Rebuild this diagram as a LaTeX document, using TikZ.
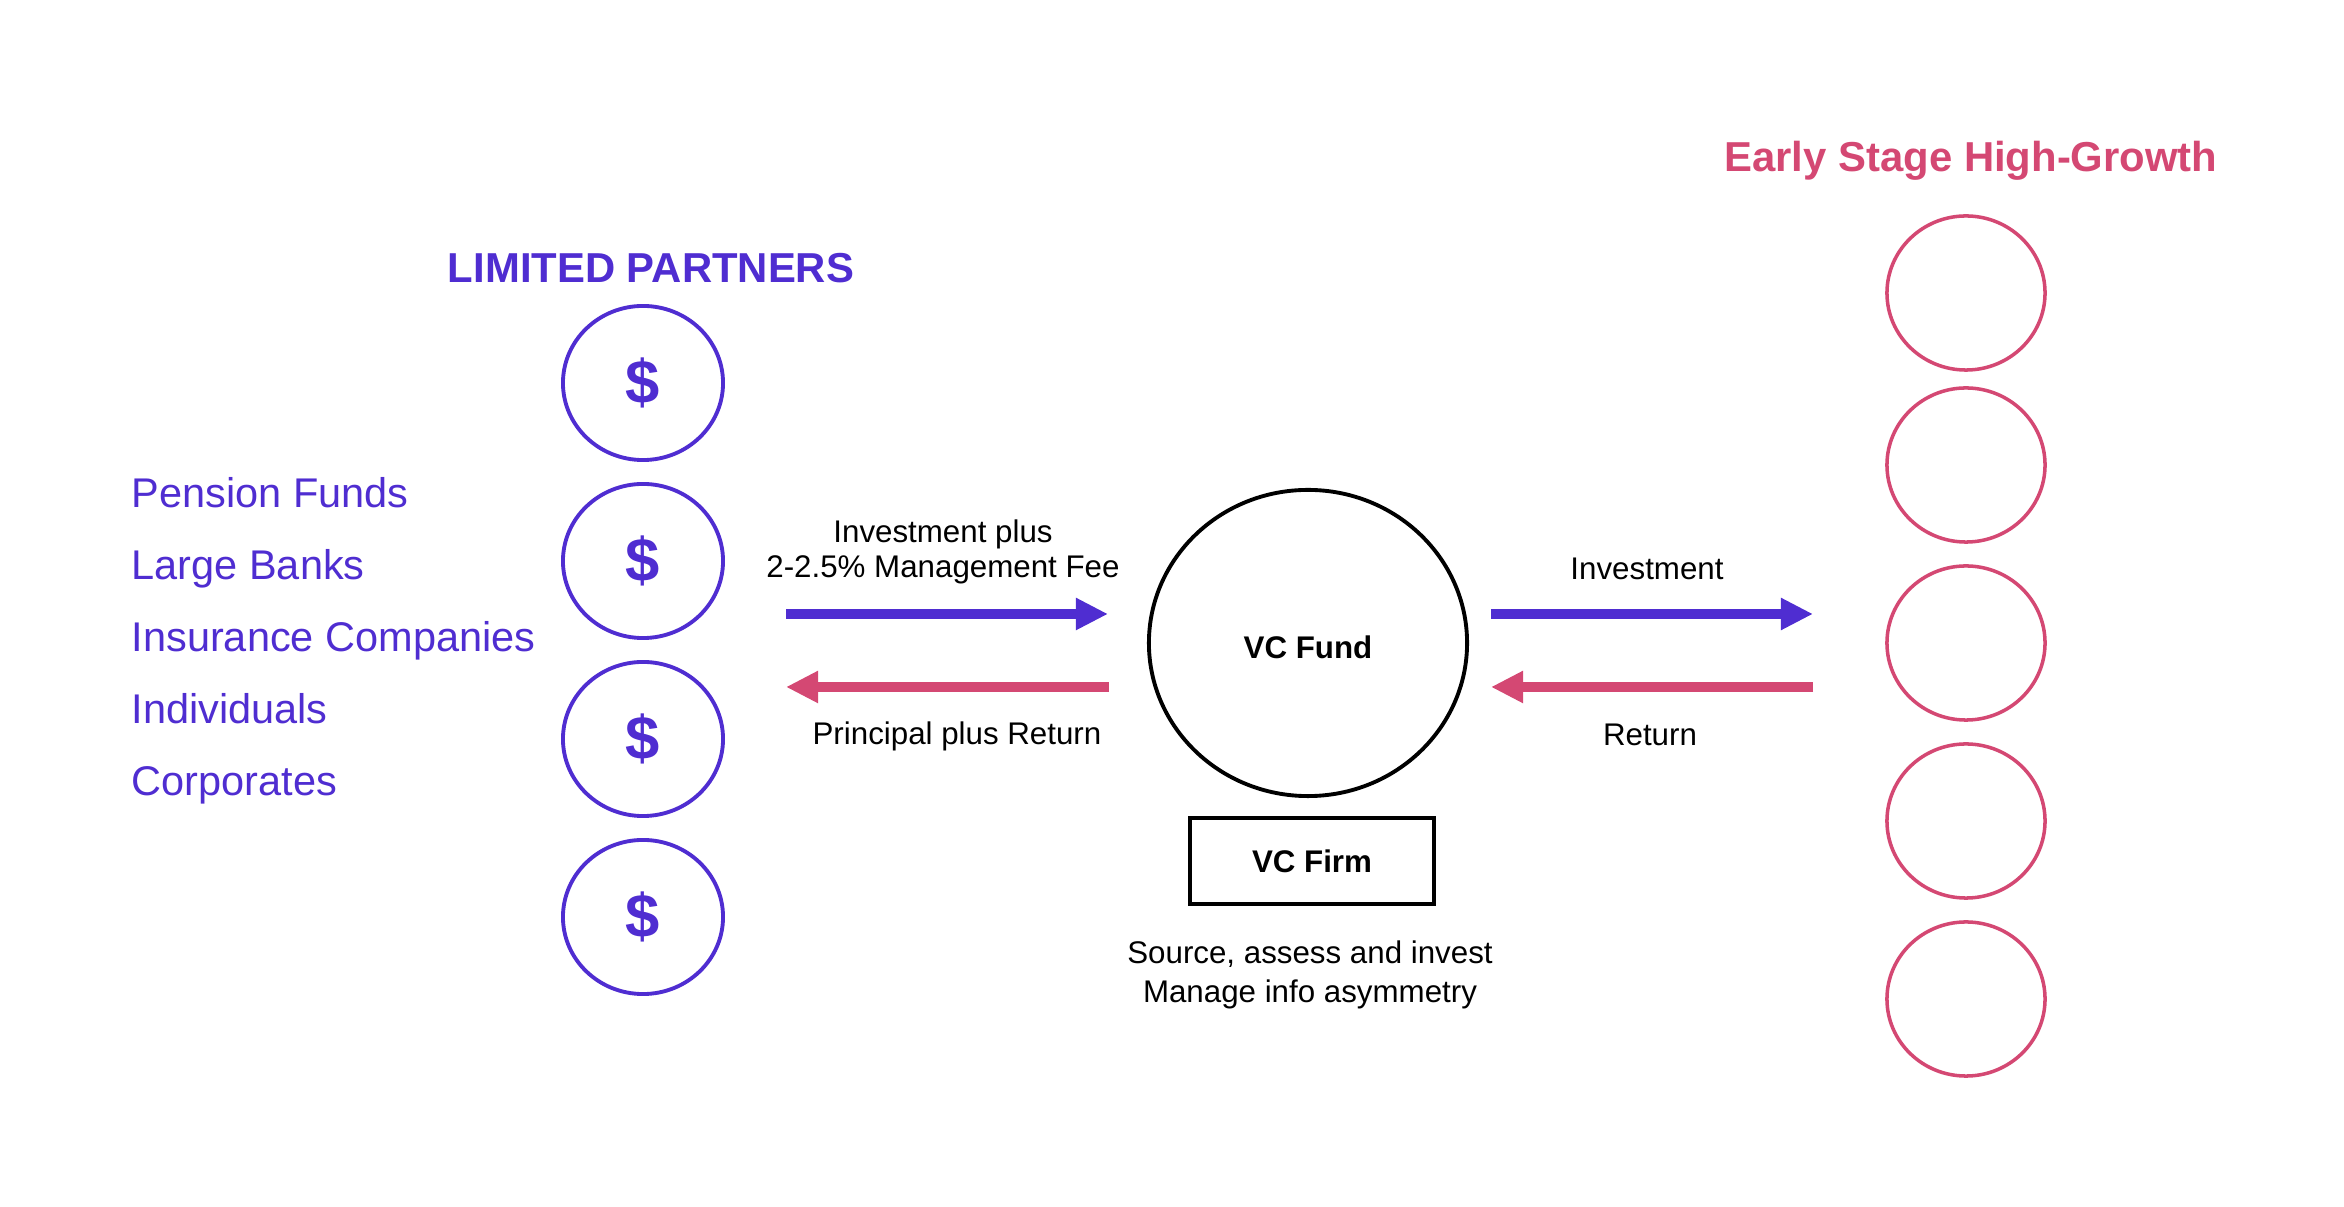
\documentclass[tikz,border=0pt]{standalone}
\usepackage{fontspec}
\setmainfont{Liberation Sans}
\usetikzlibrary{arrows.meta,shapes.geometric}
\definecolor{Violet}{HTML}{4F2DD1}
\definecolor{Rose}{HTML}{D44873}
\tikzset{
  coin/.style={
    ellipse,draw=Violet,line width=1.1pt,minimum width=1.6cm,
    minimum height=1.54cm,inner sep=0pt,text=Violet,
    font=\fontsize{17.5}{20}\selectfont\bfseries
  },
  venture/.style={
    ellipse,draw=Rose,line width=1pt,minimum width=1.58cm,
    minimum height=1.54cm,inner sep=0pt
  },
  fund/.style={
    ellipse,draw=black,line width=1.1pt,minimum width=3.18cm,
    minimum height=3.06cm,inner sep=0pt,text height=0.31cm,text depth=0pt,
    font=\fontsize{8.9}{10}\selectfont\bfseries
  },
  firm/.style={
    rectangle,draw=black,line width=1.1pt,minimum width=2.44cm,
    minimum height=0.86cm,inner sep=0pt,
    font=\fontsize{8.9}{10}\selectfont\bfseries
  },
  heading/.style={font=\fontsize{11.9}{14}\selectfont\bfseries,anchor=base,inner sep=0pt},
  source/.style={font=\fontsize{11.8}{14}\selectfont,text=Violet,anchor=base west,inner sep=0pt},
  flowlabel/.style={font=\fontsize{8.9}{10}\selectfont,inner sep=0pt,align=center},
  flow/.style={-{Triangle[length=0.32cm,width=0.3cm]},line width=0.1cm}
}

\begin{document}
\begin{tikzpicture}[x=0.01cm,y=-0.01cm]
        \useasboundingbox (0,0) rectangle (2344,1207);
        % limited partners
        \node[heading,text=Violet] (lptitle) at (651,283) {LIMITED PARTNERS};
        \foreach \i in {1,...,4}
          \node[coin] (lp\i) at (643,{383+178*(\i-1)}) {\$};
        \foreach \name [count=\i] in {Pension Funds,Large Banks,Insurance Companies,Individuals,Corporates}
          \node[source] (src\i) at (131,{508+72*(\i-1)}) {\name};
        % fund and firm
        \node[fund] (vcfund) at (1308,643) {VC Fund};
        \node[firm] (vcfirm) at (1312,861) {VC Firm};
        \node[flowlabel,anchor=north,font=\fontsize{8.9}{11.1}\selectfont] (firmtask) at (1310,940)
          {Source, assess and invest\\Manage info asymmetry};
        % portfolio companies
        \node[heading,text=Rose] (vctitle) at (1971,172) {Early Stage High-Growth};
        \foreach \y [count=\i] in {293,465,643,821,999}
          \node[venture] (co\i) at (1966,\y) {};
        % flows
        \coordinate (lpOut) at (786,614);
        \coordinate (fundIn) at (1108,614);
        \coordinate (fundBack) at (1109,687);
        \coordinate (lpBack) at (786,687);
        \coordinate (fundOut) at (1491,614);
        \coordinate (coIn) at (1813,614);
        \coordinate (coBack) at (1813,687);
        \coordinate (fundRet) at (1491,687);
        \draw[flow,Violet] (lpOut) -- (fundIn);
        \draw[flow,Rose] (fundBack) -- (lpBack);
        \draw[flow,Violet] (fundOut) -- (coIn);
        \draw[flow,Rose] (coBack) -- (fundRet);
        \node[flowlabel,anchor=north] (feelabel) at (943,519)
          {Investment plus\\2-2.5\% Management Fee};
        \node[flowlabel,anchor=base] (retlabel) at (957,745) {Principal plus Return};
        \node[flowlabel,anchor=base] (invlabel) at (1647,580) {Investment};
        \node[flowlabel,anchor=base] (colabel) at (1650,746) {Return};
      \end{tikzpicture}
\end{document}
